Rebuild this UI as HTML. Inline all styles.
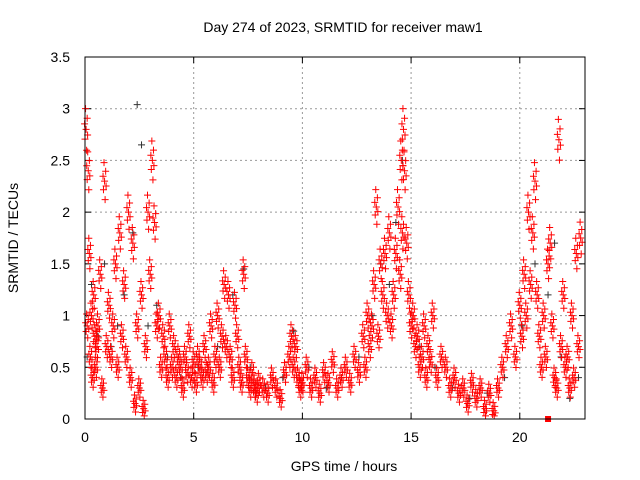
<!DOCTYPE html>
<html><head><meta charset="utf-8"><style>
body{margin:0;background:#fff;}
svg{display:block;font-family:"Liberation Sans",sans-serif;}
</style></head><body>
<svg id="chart" width="640" height="480" viewBox="0 0 640 480" xmlns="http://www.w3.org/2000/svg">
<text x="343" y="32" font-size="14" text-anchor="middle">Day 274 of 2023, SRMTID for receiver maw1</text>
<text x="344" y="471" font-size="14" text-anchor="middle">GPS time / hours</text>
<text x="18" y="238" font-size="14" text-anchor="middle" transform="rotate(-90 18 238)">SRMTID / TECUs</text>
<g id="grid"></g>
<g id="ticks"></g>
<g id="black-series"></g>
<g id="red-series"></g>
<rect x="85" y="57" width="500" height="362" fill="none" stroke="#000" stroke-width="1"/>
</svg>
<script>
const xTicks=[0,5,10,15,20];
const yTicks=[0,0.5,1,1.5,2,2.5,3,3.5];
const yTickLabels=["0","0.5","1","1.5","2","2.5","3","3.5"];
const redT=[0.05,0.1,0.15,0.2,0.25,0.3,0.35,0.4,0.45,0.5,0.55,0.6,0.7,0.8,0.9,1.0,1.1,1.2,1.3,1.4,1.5,1.6,1.7,1.8,1.9,2.0,2.1,2.2,2.3,2.4,2.5,2.6,2.7,2.8,2.9,3.0,3.1,3.2,3.3,3.4,3.5,3.6,3.7,3.8,3.9,4.0,4.1,4.2,4.3,4.4,4.5,4.6,4.7,4.8,4.9,5.0,5.1,5.2,5.3,5.4,5.5,5.6,5.7,5.8,5.9,6.0,6.1,6.2,6.3,6.4,6.5,6.6,6.7,6.8,6.9,7.0,7.1,7.2,7.3,7.4,7.5,7.6,7.7,7.8,7.9,8.0,8.2,8.4,8.6,8.8,9.0,9.2,9.4,9.5,9.6,9.7,9.8,9.9,10.0,10.2,10.4,10.6,10.8,11.0,11.2,11.4,11.6,11.8,12.0,12.2,12.4,12.6,12.8,12.9,13.0,13.1,13.2,13.3,13.4,13.5,13.6,13.7,13.8,13.9,14.0,14.1,14.2,14.3,14.4,14.5,14.55,14.6,14.65,14.7,14.8,14.9,15.0,15.1,15.2,15.3,15.4,15.5,15.6,15.7,15.8,15.9,16.0,16.2,16.4,16.6,16.8,17.0,17.2,17.4,17.6,17.8,18.0,18.2,18.4,18.6,18.8,19.0,19.2,19.4,19.6,19.8,20.0,20.1,20.2,20.3,20.4,20.5,20.6,20.7,20.8,20.9,21.0,21.1,21.2,21.3,21.4,21.5,21.6,21.7,21.8,21.9,22.0,22.1,22.2,22.3,22.4,22.5,22.6,22.7,22.8,22.9];
const redV=[2.8,0.9,2.4,1.6,0.6,1.0,0.4,1.2,0.8,0.5,0.7,0.9,1.4,0.3,2.3,0.7,1.1,0.6,0.9,1.5,0.5,1.8,0.8,1.3,0.6,2.0,0.4,1.7,0.15,0.9,0.3,1.2,0.1,0.7,2.0,1.4,2.5,1.9,0.9,1.0,0.5,0.8,0.6,0.4,0.9,0.5,0.7,0.4,0.6,0.5,0.3,0.6,0.45,0.8,0.4,0.55,0.35,0.6,0.5,0.4,0.7,0.45,0.5,0.9,0.35,0.6,1.0,0.5,0.8,1.3,0.7,1.2,0.6,0.4,1.1,0.8,0.5,0.35,1.4,0.6,0.4,0.3,0.45,0.3,0.25,0.35,0.3,0.25,0.4,0.3,0.2,0.45,0.6,0.8,0.5,0.7,0.4,0.3,0.35,0.5,0.3,0.4,0.25,0.45,0.35,0.55,0.3,0.4,0.5,0.35,0.6,0.45,0.8,0.5,1.0,0.7,0.9,1.3,2.05,0.8,1.5,1.2,1.6,1.0,1.8,0.9,1.2,1.6,2.05,1.4,2.5,1.8,2.8,2.4,1.7,1.2,0.9,1.0,0.7,0.8,0.5,0.6,0.9,0.4,0.7,0.55,1.0,0.4,0.6,0.5,0.3,0.4,0.25,0.3,0.15,0.35,0.2,0.3,0.1,0.25,0.08,0.3,0.5,0.7,0.9,0.6,1.1,0.8,1.4,1.0,2.0,1.3,1.8,2.3,1.2,0.8,0.5,1.0,0.6,1.5,1.7,0.9,0.4,0.3,2.7,0.7,1.2,0.5,0.6,0.3,1.0,0.4,1.6,0.7,1.75];
const blackT=[0.1,0.3,0.6,0.9,1.2,1.5,1.8,2.2,2.4,2.6,2.9,3.3,3.8,4.4,5.2,6.1,6.8,7.3,7.6,8.3,9.1,9.6,10.3,11.1,11.8,12.6,13.2,13.6,14.0,14.3,14.6,15.4,16.1,16.9,17.7,18.5,19.3,20.1,20.7,21.3,21.6,21.9,22.3,22.7];
const blackV=[0.6,1.3,0.8,1.5,0.7,0.9,1.2,1.8,3.04,2.65,0.9,1.1,0.6,0.4,0.5,0.7,1.2,1.45,0.5,0.3,0.4,0.85,0.5,0.3,0.4,0.6,1.0,1.5,1.3,1.9,2.5,0.7,0.5,0.3,0.2,0.25,0.4,0.9,1.5,1.2,1.7,0.6,0.2,0.4];
const X=t=>85+t*(500/23);
const Y=v=>419-v*(362/3.5);
const NS="http://www.w3.org/2000/svg";
function mk(tag,attrs,parent){const e=document.createElementNS(NS,tag);for(const k in attrs)e.setAttribute(k,attrs[k]);parent.appendChild(e);return e;}
const grid=document.getElementById('grid'),ticks=document.getElementById('ticks');
xTicks.forEach(t=>{
 const x=X(t);
 if(t>0){const g=mk('line',{x1:x,x2:x,y1:57,y2:419,stroke:'#999','stroke-dasharray':'2,3'},grid);
 
 }
 mk('line',{x1:x,x2:x,y1:419,y2:413,stroke:'#000'},ticks);
 mk('line',{x1:x,x2:x,y1:57,y2:63,stroke:'#000'},ticks);
 const l=mk('text',{x:x,y:442,'font-size':14,'text-anchor':'middle'},ticks);l.textContent=String(t);
 
 
});
yTicks.forEach((v,i)=>{
 const y=Y(v);
 if(v>0&&v<3.5){const g=mk('line',{x1:85,x2:585,y1:y,y2:y,stroke:'#999','stroke-dasharray':'2,3'},grid);
 
 }
 mk('line',{x1:85,x2:91,y1:y,y2:y,stroke:'#000'},ticks);
 mk('line',{x1:585,x2:579,y1:y,y2:y,stroke:'#000'},ticks);
 const l=mk('text',{x:70,y:y+5,'font-size':14,'text-anchor':'end'},ticks);l.textContent=yTickLabels[i];
 
 
});
function plus(g,t,v,c,name){
 const x=X(t),y=Y(v);
 const p=mk('path',{d:`M${x-3.5} ${y}H${x+3.5}M${x} ${y-3.5}V${y+3.5}`,stroke:c,'stroke-width':1,fill:'none'},g);
 
 
}
const bg=document.getElementById('black-series'),rg=document.getElementById('red-series');
blackT.forEach((t,i)=>plus(bg,t,blackV[i],'#333','black-point'));
const offs=[[0,0],[0.05,0.08],[-0.05,-0.07],[0.025,-0.15],[-0.025,0.15],[0.07,-0.04],[-0.07,0.04]];
redT.forEach((t,i)=>{offs.forEach(o=>{const v=Math.max(0.03,redV[i]+o[1]*(0.5+0.3*redV[i]));plus(rg,t+o[0],v,'#f00','red-point');});});
const sq=mk('rect',{x:X(21.3)-3,y:416,width:6,height:6,fill:'#f00'},rg);


</script>
</body></html>
